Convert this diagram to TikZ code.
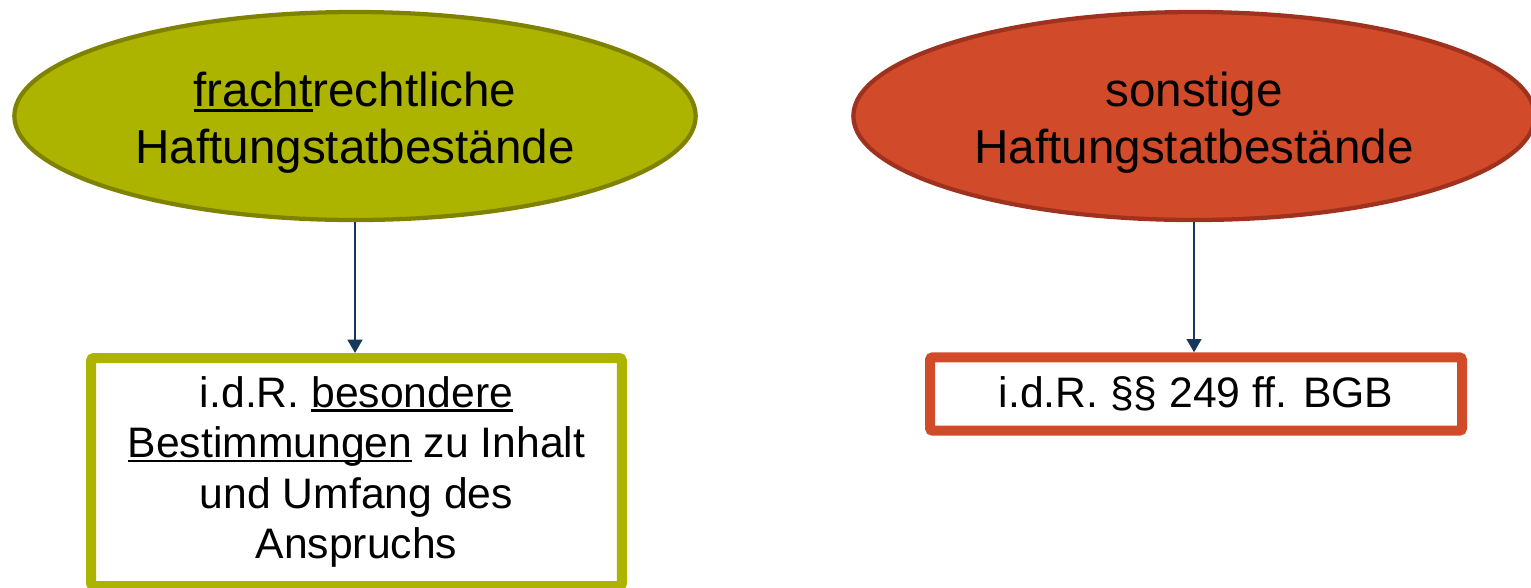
\documentclass[tikz,border=0pt]{standalone}
\usepackage{fontspec}
\setmainfont{Liberation Sans}
\usetikzlibrary{shapes.geometric,arrows.meta}

\definecolor{oliveFill}{HTML}{ADB400}
\definecolor{oliveLine}{HTML}{7F8200}
\definecolor{rustFill}{HTML}{D14A2A}
\definecolor{rustLine}{HTML}{9E321E}
\definecolor{navyArrow}{HTML}{17375E}

% underline with a fixed offset below the baseline
\newcommand\ulword[1]{\setbox0\hbox{#1}\rlap{\rule[-0.11em]{\wd0}{0.065em}}\box0\relax}

\tikzset{
  topic/.style={ellipse, draw, line width=3.2pt, inner sep=0pt,
    minimum width=511pt, minimum height=156pt},
  topictext/.style={align=center, inner sep=0pt,
    font=\fontsize{35.7pt}{42.75pt}\selectfont},
  detail/.style={rectangle, draw, fill=white, line width=7.5pt, rounded corners=2pt,
    inner sep=0pt, align=center, font=\fontsize{32pt}{37.9pt}\selectfont},
  link/.style={navyArrow, line width=1.8pt, -{Triangle[width=11pt,length=10pt]}}
}

\begin{document}
\begin{tikzpicture}[x=0.75pt, y=-0.75pt]
  \useasboundingbox (0,0) rectangle (1531,587);

  % upper ellipses with their captions
  \node[topic, fill=oliveFill, draw=oliveLine] (fracht) at (355,116) {};
  \node[topictext] (frachtText) at (355,123)
    {\ulword{fracht}rechtliche\\Haftungstatbestände};
  \node[topic, fill=rustFill, draw=rustLine] (sonst) at (1194,116) {};
  \node[topictext] (sonstText) at (1194,123)
    {sonstige\\Haftungstatbestände};

  % lower boxes
  \node[detail, draw=oliveFill, minimum width=398pt, minimum height=171pt] (besond) at (356.5,472)
    {i.d.R. \ulword{besondere}\\\ulword{Bestimmungen} zu Inhalt\\und Umfang des\\Anspruchs};
  \node[detail, draw=rustFill, minimum width=399pt, minimum height=55pt] (bgb) at (1196,394)
    {i.d.R. §§ 249 ff. BGB};

  % connectors
  \draw[link] (fracht.south) -- (fracht.south |- besond.north);
  \draw[link] (sonst.south) -- (sonst.south |- bgb.north);
\end{tikzpicture}
\end{document}
